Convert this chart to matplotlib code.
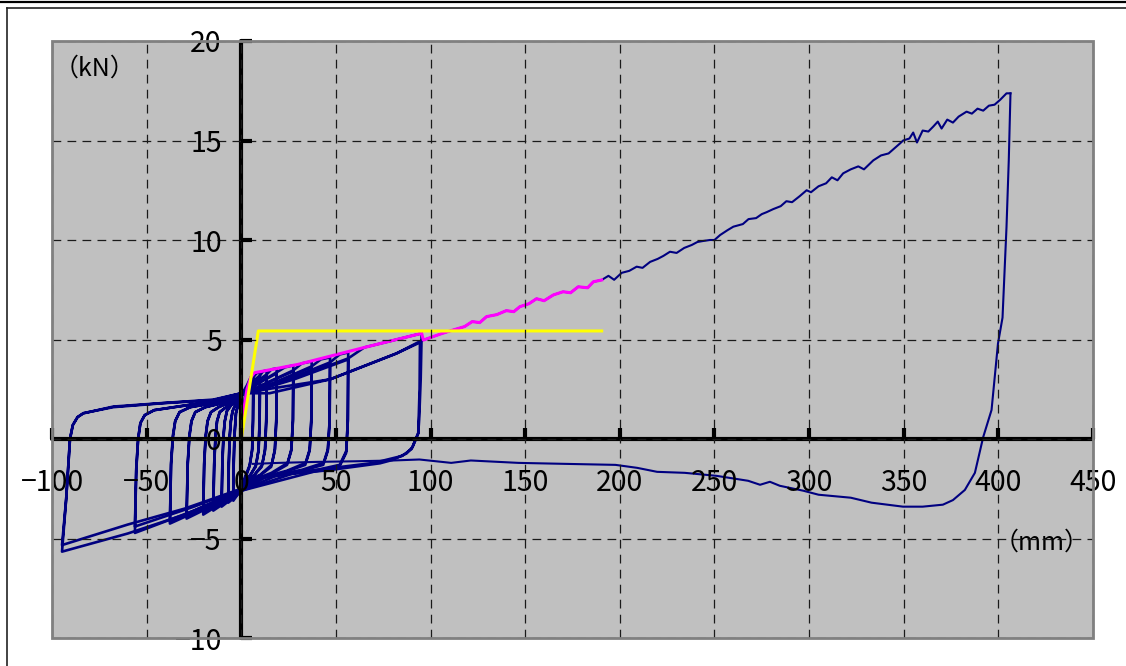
import numpy as np
import matplotlib
matplotlib.use("Agg")
import matplotlib.pyplot as plt
from matplotlib.lines import Line2D
from matplotlib.patches import Rectangle

plt.rcParams['font.family'] = ['Noto Sans CJK JP', 'DejaVu Sans']

# hysteresis cycles (displacement mm, load kN), two cycles per amplitude level
lvl1 = [(0, 0), (0.8, 1.2), (2, 2.2), (3.5, 2.8), (5, 3.1), (6.4, 3.2),
        (6.2, 1.0), (5.8, -0.5), (4.5, -1.3), (2, -1.9), (0, -2.4), (-2, -2.7), (-4.2, -3.0),
        (-4.0, -1.2), (-3.6, 0.2), (-2.8, 1.3), (-1.5, 1.8), (0, 2.2), (3, 2.6), (6.4, 3.0),
        (6.2, 0.9), (5.7, -0.6), (4.3, -1.4), (2, -2.0), (0, -2.5), (-2, -2.8), (-4.2, -3.1),
        (-4.0, -1.3), (-3.6, 0.1), (-2.8, 1.3), (-1.5, 1.8), (0, 2.2)]
lvl2 = [(0, 2.2), (3, 2.7), (6.4, 3.1), (8, 3.3), (9.9, 3.35),
        (9.7, 1.0), (9.2, -0.5), (7.8, -1.3), (5, -1.8), (2, -2.1), (0, -2.5), (-3, -2.8), (-6.9, -3.1),
        (-6.6, -1.2), (-6.1, 0.2), (-5.5, 0.9), (-4.6, 1.4), (-3, 1.75), (0, 2.2), (5, 2.8), (9.9, 3.1),
        (9.7, 0.9), (9.1, -0.6), (7.6, -1.4), (4, -1.9), (0, -2.6), (-3, -2.9), (-6.9, -3.2),
        (-6.6, -1.3), (-6.1, 0.1), (-5.5, 0.9), (-4.6, 1.4), (-3, 1.75), (0, 2.2)]
lvl3 = [(0, 2.2), (5, 2.8), (9.9, 3.2), (11.5, 3.4), (13.4, 3.45),
        (13.2, 1.0), (12.6, -0.5), (11, -1.3), (7, -1.8), (2, -2.1), (0, -2.5), (-5, -2.9), (-10.4, -3.3),
        (-10.0, -1.2), (-9.4, 0.2), (-8.7, 0.9), (-7.6, 1.4), (-5, 1.75), (-2, 1.9), (0, 2.2), (7, 2.8), (13.4, 3.2),
        (13.2, 0.9), (12.5, -0.6), (10.8, -1.4), (6, -1.9), (0, -2.6), (-5, -3.0), (-10.4, -3.4),
        (-10.0, -1.3), (-9.4, 0.1), (-8.7, 0.9), (-7.6, 1.4), (-5, 1.75), (-2, 1.9), (0, 2.2)]
lvl4 = [(0, 2.2), (7, 2.8), (13.4, 3.25), (16, 3.5), (18.7, 3.55),
        (18.5, 1.0), (17.8, -0.5), (16, -1.3), (10, -1.8), (3, -2.1), (0, -2.5), (-7, -3.0), (-14.8, -3.5),
        (-14.3, -1.2), (-13.6, 0.2), (-12.8, 0.9), (-11.4, 1.35), (-8, 1.6), (-4, 1.85), (0, 2.2), (9, 2.8), (18.7, 3.3),
        (18.5, 0.9), (17.7, -0.6), (15.8, -1.4), (9, -1.9), (0, -2.6), (-7, -3.1), (-14.8, -3.6),
        (-14.3, -1.3), (-13.6, 0.1), (-12.8, 0.9), (-11.4, 1.35), (-8, 1.6), (-4, 1.85), (0, 2.2)]
lvl5 = [(0, 2.2), (9, 2.8), (18.7, 3.35), (23, 3.6), (27.5, 3.7),
        (27.3, 1.0), (26.5, -0.5), (24.5, -1.2), (16, -1.7), (5, -2.1), (0, -2.5), (-10, -3.1), (-20.1, -3.7),
        (-19.6, -1.2), (-18.8, 0.2), (-17.8, 0.9), (-16, 1.35), (-12, 1.6), (-6, 1.85), (0, 2.2), (13, 2.8), (27.5, 3.4),
        (27.3, 0.9), (26.4, -0.6), (24.2, -1.3), (15, -1.8), (0, -2.6), (-10, -3.2), (-20.1, -3.8),
        (-19.6, -1.3), (-18.8, 0.1), (-17.8, 0.9), (-16, 1.35), (-12, 1.6), (-6, 1.85), (0, 2.2)]
lvl6 = [(0, 2.2), (13, 2.8), (27.5, 3.45), (32, 3.8), (37.2, 3.9),
        (37.0, 1.0), (36.2, -0.5), (34, -1.2), (24, -1.6), (8, -2.0), (0, -2.5), (-14, -3.2), (-28.9, -3.9),
        (-28.3, -1.2), (-27.4, 0.2), (-26.3, 0.9), (-24.3, 1.35), (-19, 1.6), (-8, 1.85), (0, 2.2), (18, 2.85), (37.2, 3.6),
        (37.0, 0.9), (36.1, -0.6), (33.8, -1.3), (22, -1.7), (0, -2.6), (-14, -3.3), (-28.9, -4.0),
        (-28.3, -1.3), (-27.4, 0.1), (-26.3, 0.9), (-24.3, 1.35), (-19, 1.6), (-8, 1.85), (0, 2.2)]
lvl7 = [(0, 2.2), (18, 2.85), (37.2, 3.65), (42, 4.0), (46.9, 4.1),
        (46.7, 1.0), (45.8, -0.5), (43.5, -1.2), (32, -1.55), (10, -1.95), (0, -2.5), (-18, -3.3), (-37.7, -4.15),
        (-37.1, -1.2), (-36.1, 0.2), (-34.9, 0.9), (-32.6, 1.35), (-27, 1.6), (-12, 1.85), (0, 2.2), (22, 2.9), (46.9, 3.8),
        (46.7, 0.9), (45.7, -0.6), (43.3, -1.3), (30, -1.65), (0, -2.6), (-18, -3.4), (-37.7, -4.25),
        (-37.1, -1.3), (-36.1, 0.1), (-34.9, 0.9), (-32.6, 1.35), (-27, 1.6), (-12, 1.85), (0, 2.2)]
lvl8 = [(0, 2.2), (22, 2.9), (46.9, 3.85), (52, 4.25), (56.5, 4.35),
        (56.3, 1.0), (55.5, -0.6), (52, -1.3), (40, -1.55), (12, -1.95), (0, -2.5), (-25, -3.4), (-56.2, -4.4),
        (-55.5, -1.5), (-54.5, 0.0), (-53.3, 0.8), (-51, 1.2), (-46, 1.45), (-25, 1.75), (0, 2.2), (28, 3.0), (56.5, 4.0),
        (56.3, 0.9), (55.4, -0.7), (51.8, -1.4), (38, -1.65), (0, -2.6), (-25, -3.6), (-56.2, -4.72),
        (-55.5, -1.6), (-54.5, 0.0), (-53.3, 0.8), (-51, 1.2), (-46, 1.45), (-25, 1.75), (0, 2.2)]
lvl9 = [(0, 2.2), (28, 3.05), (56.5, 4.05), (65, 4.6), (80, 4.95), (95.3, 5.31),
        (94.8, 3.0), (94.0, 1.0), (93.5, 0.28), (90.5, -0.4), (87.4, -0.72), (80, -1.05), (73.3, -1.22),
        (46.9, -1.56), (11.7, -1.89), (0, -2.5), (-30, -3.5), (-60, -4.3), (-94.7, -5.33),
        (-92.5, -3.0), (-90.5, 0.0), (-89, 0.7), (-86.5, 1.1), (-83.4, 1.29), (-67.6, 1.63), (-41.2, 1.81),
        (-14.8, 1.98), (0, 2.3), (15, 2.3), (47, 3.0), (82, 4.3), (94.4, 4.85),
        (94.2, 2.5), (93.5, 0.3), (90, -0.5), (85, -0.85), (70, -1.2), (40, -1.55), (10, -1.95), (0, -2.6),
        (-30, -3.8), (-60, -4.75), (-94.7, -5.66),
        (-92.5, -3.0), (-90.5, 0.0), (-89, 0.7), (-86.5, 1.1), (-83.4, 1.3), (-67.6, 1.6), (-41.2, 1.8),
        (-14.8, 1.95), (0, 2.3), (47, 3.0), (82, 4.3), (95.3, 4.95)]

# final monotonic push to ~406 mm
push_x = [95.3, 100, 106, 112, 118, 122, 126, 129.6, 135, 140, 144, 147.2, 152, 156, 160, 164.9,
          170, 174, 178, 183, 186, 190.4, 194, 197, 201, 205, 208.9, 212, 216, 220, 223, 226.5,
          230, 234, 238, 241, 244, 247.6, 250, 253, 257, 260, 265, 268, 272, 275, 277.6, 281,
          285, 288, 291, 295, 298.7, 301, 305, 309, 312, 315, 318, 322, 326, 329, 333.9, 338,
          342, 345, 348, 349.7, 353, 355, 357, 360, 363, 365.6, 368, 370, 373, 376, 379, 383.2,
          386, 389, 392, 395, 398, 401, 404.3, 406.4]
push_y = [4.95, 5.1, 5.3, 5.48, 5.65, 5.9, 5.85, 6.15, 6.25, 6.45, 6.4, 6.65, 6.8, 7.05, 6.95, 7.24,
          7.4, 7.35, 7.65, 7.6, 7.9, 7.99, 8.2, 8.0, 8.35, 8.45, 8.66, 8.6, 8.9, 9.05, 9.2, 9.41,
          9.35, 9.6, 9.75, 9.9, 9.95, 10.0, 10.0, 10.25, 10.5, 10.67, 10.8, 11.05, 11.1, 11.3, 11.4, 11.55,
          11.7, 11.95, 11.9, 12.2, 12.5, 12.4, 12.7, 12.85, 13.15, 13.0, 13.35, 13.55, 13.7, 13.55, 14.0, 14.25,
          14.35, 14.6, 14.85, 15.0, 15.1, 15.4, 14.9, 15.5, 15.45, 15.7, 15.95, 15.6, 16.05, 15.9, 16.2, 16.45,
          16.35, 16.6, 16.5, 16.75, 16.8, 17.05, 17.37, 17.37]

# unloading back from the peak
back_x = [406.4, 405.5, 404.3, 402.2, 399.8, 396.4, 392, 387.6, 382.3, 376, 370.7, 360, 349.6,
          333, 322, 305, 297, 284.5, 279.3, 274.1, 267.8, 251, 234.3, 219.7, 209.2, 197.7, 171.5,
          146.4, 121.3, 110.9, 94.1, 80, 60, 40, 20, 6]
back_y = [17.37, 14.0, 10.65, 6.1, 4.8, 1.46, 0.1, -1.7, -2.56, -3.07, -3.3, -3.4, -3.4,
          -3.2, -2.95, -2.8, -2.6, -2.35, -2.15, -2.3, -2.1, -1.85, -1.7, -1.65, -1.45, -1.3, -1.25,
          -1.2, -1.08, -1.2, -1.03, -1.08, -1.12, -1.15, -1.2, -1.25]

# skeleton (envelope) curve and bilinear model
env_x = [0, 1, 3, 5, 7, 30, 65, 95.3, 96.2, 100, 106, 112, 118, 122, 126, 129.6, 135, 140, 144,
         147.2, 152, 156, 160, 164.9, 170, 174, 178, 183, 186, 190.4]
env_y = [0, 1.3, 2.5, 3.1, 3.33, 3.75, 4.6, 5.31, 4.97, 5.1, 5.3, 5.48, 5.65, 5.9, 5.85, 6.15, 6.25, 6.45, 6.4,
         6.65, 6.8, 7.05, 6.95, 7.24, 7.4, 7.35, 7.65, 7.6, 7.9, 7.99]
bil_x = [0, 9.0, 190.4]
bil_y = [0, 5.43, 5.43]

fig = plt.figure(figsize=(11.26, 6.66), dpi=100)
ax = fig.add_axes([52 / 1126, 28 / 666, 1041 / 1126, 597 / 666])
ax.set_facecolor('#C0C0C0')

navy = '#000080'
for cyc in [lvl1, lvl2, lvl3, lvl4, lvl5, lvl6, lvl7, lvl8, lvl9]:
    xy = np.array(cyc)
    ax.plot(xy[:, 0], xy[:, 1], color=navy, lw=1.9, zorder=3, solid_joinstyle='round')
ax.plot(push_x, push_y, color=navy, lw=1.5, zorder=3)
ax.plot(back_x, back_y, color=navy, lw=1.5, zorder=3)
ax.plot(env_x, env_y, color='#FF00FF', lw=2.2, zorder=4)
ax.plot(bil_x, bil_y, color='#FFFF00', lw=2.2, zorder=5)

ax.set_xlim(-100, 450)
ax.set_ylim(-10, 20)
ax.set_xticks(np.arange(-100, 451, 50))
ax.set_yticks(np.arange(-10, 21, 5))
ax.grid(True, color='#1a1a1a', lw=0.9, linestyle=(0, (7, 5)))

for s in ['top', 'right']:
    ax.spines[s].set_visible(False)
for s in ['left', 'bottom']:
    ax.spines[s].set_position(('data', 0))
    ax.spines[s].set_linewidth(3)
    ax.spines[s].set_capstyle('round')
    ax.spines[s].set_zorder(6)
ax.xaxis.set_zorder(6)
ax.yaxis.set_zorder(6)
ax.tick_params(axis='both', direction='in', length=8, width=3, labelsize=20.5)
ax.tick_params(axis='x', pad=21)
ax.tick_params(axis='y', pad=14)

ax.add_patch(Rectangle((0, 0), 1, 1, transform=ax.transAxes, fill=False,
                       edgecolor='#808080', lw=2, clip_on=False, zorder=7))

ax.text(-77.3, 18.6, '（kN）', fontsize=18, ha='center', va='center')
ax.text(423, -5.2, '（mm）', fontsize=18, ha='center', va='center')

# outer frame lines
fig.add_artist(Line2D([0, 1], [1 - 1.5 / 666] * 2, transform=fig.transFigure, color='black', lw=1.6))
fig.add_artist(Line2D([6.5 / 1126, 1], [1 - 8.3 / 666] * 2, transform=fig.transFigure, color='#222222', lw=1.2))
fig.add_artist(Line2D([6.5 / 1126] * 2, [0, 1 - 8.3 / 666], transform=fig.transFigure, color='#222222', lw=1.2))

fig.savefig('out.png', dpi=100)
